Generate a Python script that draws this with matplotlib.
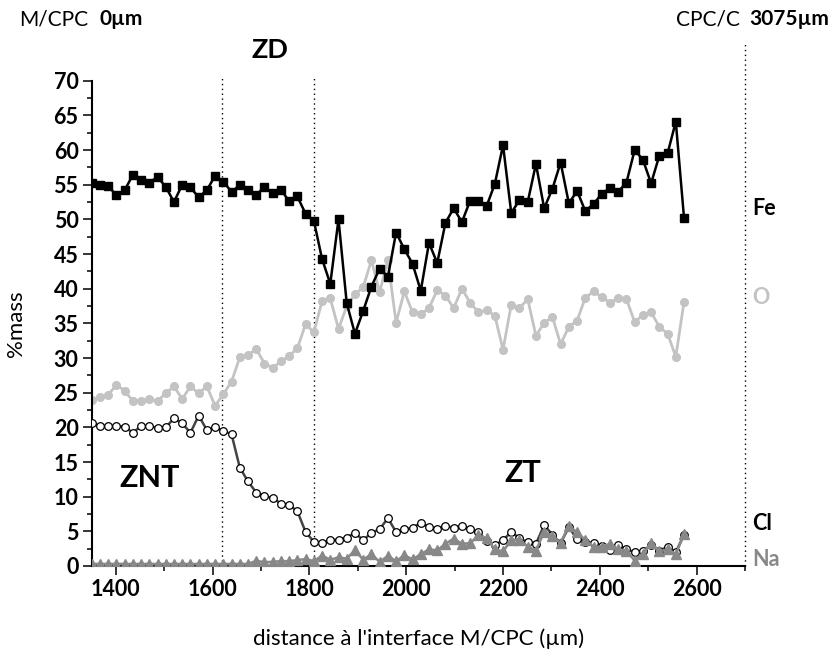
import matplotlib
matplotlib.use("Agg")
import matplotlib.pyplot as plt
from matplotlib.ticker import MultipleLocator

plt.rcParams['font.family'] = ['Lato', 'DejaVu Sans']

# Sampling positions along the profile (µm from the M/CPC interface)
distance = [1350, 1367, 1384, 1401, 1418, 1435, 1452, 1469, 1486, 1503,
            1520, 1537, 1554, 1571, 1588, 1605, 1622, 1639, 1656, 1673,
            1690, 1707, 1724, 1741, 1758, 1775, 1792, 1809, 1826, 1843,
            1860, 1877, 1894, 1911, 1928, 1945, 1962, 1979, 1996, 2013,
            2030, 2047, 2064, 2081, 2098, 2115, 2132, 2149, 2166, 2183,
            2200, 2217, 2234, 2251, 2268, 2285, 2302, 2319, 2336, 2353,
            2370, 2387, 2404, 2421, 2438, 2455, 2472, 2489, 2506, 2523,
            2540, 2557, 2574]

fe = [55.2, 55.0, 54.8, 53.5, 54.2, 56.4, 55.7, 55.3, 56.1, 54.7,
      52.5, 55.0, 54.6, 53.2, 54.2, 56.3, 55.4, 54.0, 54.9, 54.3,
      53.5, 54.7, 53.8, 54.3, 52.6, 53.3, 50.8, 49.8, 44.3, 40.7,
      50.0, 37.9, 33.5, 36.8, 40.3, 42.9, 41.7, 48.1, 45.7, 43.6,
      39.7, 46.6, 43.7, 49.5, 51.6, 49.6, 52.7, 52.7, 51.9, 55.1,
      60.7, 50.9, 52.8, 52.5, 58.0, 51.6, 54.4, 58.2, 52.3, 54.1,
      51.2, 52.2, 53.7, 54.5, 54.0, 55.3, 60.0, 58.6, 55.2, 59.2,
      59.5, 64.1, 50.2]

o = [24.0, 24.4, 24.7, 26.1, 25.3, 23.8, 23.8, 24.1, 23.8, 24.9,
     25.9, 24.1, 25.9, 24.9, 25.9, 23.1, 24.8, 26.6, 30.1, 30.4,
     31.3, 29.2, 28.6, 29.5, 30.3, 31.4, 34.9, 33.7, 38.2, 38.6,
     34.2, 37.5, 39.2, 40.2, 44.1, 39.5, 44.1, 35.1, 39.6, 36.6,
     36.3, 37.2, 39.8, 39.0, 37.2, 40.0, 38.0, 36.6, 36.9, 36.1,
     31.2, 37.7, 37.2, 38.5, 33.2, 35.1, 35.9, 32.0, 34.5, 35.4,
     38.7, 39.6, 38.8, 38.0, 38.6, 38.5, 35.2, 36.2, 36.6, 34.5,
     33.5, 30.2, 38.1]

cl = [20.6, 20.2, 20.2, 20.2, 20.1, 19.2, 20.2, 20.2, 19.9, 20.0,
      21.3, 20.6, 19.2, 21.7, 19.6, 20.0, 19.5, 19.0, 14.2, 12.2,
      10.6, 10.1, 9.8, 9.0, 8.8, 7.9, 4.9, 3.5, 3.3, 3.75,
      3.8, 4.1, 4.8, 3.7, 4.8, 5.3, 6.9, 4.9, 5.3, 5.5,
      6.25, 5.6, 5.4, 5.8, 5.5, 5.8, 5.3, 4.9, 3.65, 3.0,
      3.75, 4.9, 4.0, 3.4, 3.2, 5.9, 4.5, 3.3, 5.6, 3.85,
      3.5, 3.3, 2.9, 2.3, 3.0, 2.4, 2.0, 2.2, 3.0, 2.2,
      2.8, 2.0, 4.5]

na = [0.3, 0.3, 0.3, 0.3, 0.3, 0.3, 0.3, 0.3, 0.3, 0.3,
      0.3, 0.3, 0.3, 0.3, 0.3, 0.3, 0.3, 0.3, 0.3, 0.3,
      0.75, 0.55, 0.6, 0.7, 0.7, 0.85, 1.0, 0.7, 1.5, 0.9,
      1.25, 1.05, 2.3, 0.9, 1.7, 0.6, 1.45, 0.7, 1.55, 0.95,
      1.7, 2.4, 2.25, 3.2, 3.95, 3.2, 3.3, 4.4, 4.0, 2.4,
      2.1, 3.75, 3.8, 2.8, 2.2, 4.95, 4.3, 3.35, 5.8, 4.85,
      3.75, 2.8, 2.8, 3.2, 2.4, 2.2, 0.77, 1.8, 3.3, 2.1,
      2.4, 1.7, 4.6]

zone_limits = [1620, 1810]
cpc_c_limit = 2700

W, H = 835, 658
fig = plt.figure(figsize=(W / 100, H / 100), dpi=100)
ax = fig.add_axes([91.7 / W, 1 - 566 / H, (745 - 91.7) / W, (566 - 80.7) / H])

ax.plot(distance, o, color='#c3c3c3', lw=2.0, marker='o', ms=5.5,
        mfc='#c3c3c3', mec='#c3c3c3', zorder=2)
ax.plot(distance, fe, color='black', lw=1.8, marker='s', ms=5.5,
        mfc='black', mec='black', zorder=4)
ax.plot(distance, cl, color='#444444', lw=1.8, marker='o', ms=5.5,
        mfc='white', mec='black', mew=0.9, zorder=3)
ax.plot(distance, na, color='#888888', lw=1.8, marker='^', ms=6.5,
        mfc='#888888', mec='#888888', zorder=3.5)

for xv in zone_limits:
    ax.axvline(xv, ymin=0, ymax=1.005, color='black', lw=1.0,
               ls=(0, (1, 2.5)), clip_on=False, zorder=1)
ax.axvline(cpc_c_limit, ymin=0, ymax=1.078, color='black', lw=1.0,
           ls=(0, (1, 2.5)), clip_on=False, zorder=1)

ax.set_xlim(1350, 2700)
ax.set_ylim(0, 70)
ax.xaxis.set_major_locator(MultipleLocator(200))
ax.xaxis.set_minor_locator(MultipleLocator(100))
ax.yaxis.set_major_locator(MultipleLocator(5))
ax.yaxis.set_minor_locator(MultipleLocator(2.5))
ax.set_xticks([1400, 1600, 1800, 2000, 2200, 2400, 2600])

for side in ('top', 'right'):
    ax.spines[side].set_visible(False)
for side in ('left', 'bottom'):
    ax.spines[side].set_linewidth(1.5)

ax.tick_params(which='major', direction='out', length=6.5, width=1.1,
               labelsize=15.5, pad=3)
ax.tick_params(which='minor', direction='out', length=3.5, width=1.1)
for lab in ax.get_xticklabels() + ax.get_yticklabels():
    lab.set_fontweight('bold')

ax.set_xlabel("distance à l'interface M/CPC (µm)", fontsize=16, labelpad=20)
ax.set_ylabel("%mass", fontsize=16, labelpad=20)

def ftext(px, py, s, **kw):
    fig.text(px / W, 1 - py / H, s, **kw)

ftext(19, 19, "M/CPC", fontsize=15, ha='left', va='center')
ftext(100, 19, "0µm", fontsize=15, fontweight='bold', ha='left', va='center')
ftext(676, 19, "CPC/C", fontsize=15, ha='left', va='center')
ftext(749, 19, "3075µm", fontsize=15, fontweight='bold', ha='left', va='center')

ftext(270, 50, "ZD", fontsize=19.5, fontweight='bold', ha='center', va='center')
ftext(150, 478, "ZNT", fontsize=22, fontweight='bold', ha='center', va='center')
ftext(523, 473, "ZT", fontsize=22, fontweight='bold', ha='center', va='center')

ftext(752, 208, "Fe", fontsize=15.5, fontweight='bold', color='black', ha='left', va='center')
ftext(752, 297, "O", fontsize=15.5, fontweight='bold', color='#c3c3c3', ha='left', va='center')
ftext(752, 523, "Cl", fontsize=15.5, fontweight='bold', color='black', ha='left', va='center')
ftext(752, 560, "Na", fontsize=15.5, fontweight='bold', color='#888888', ha='left', va='center')

fig.savefig("out.png", dpi=100)
